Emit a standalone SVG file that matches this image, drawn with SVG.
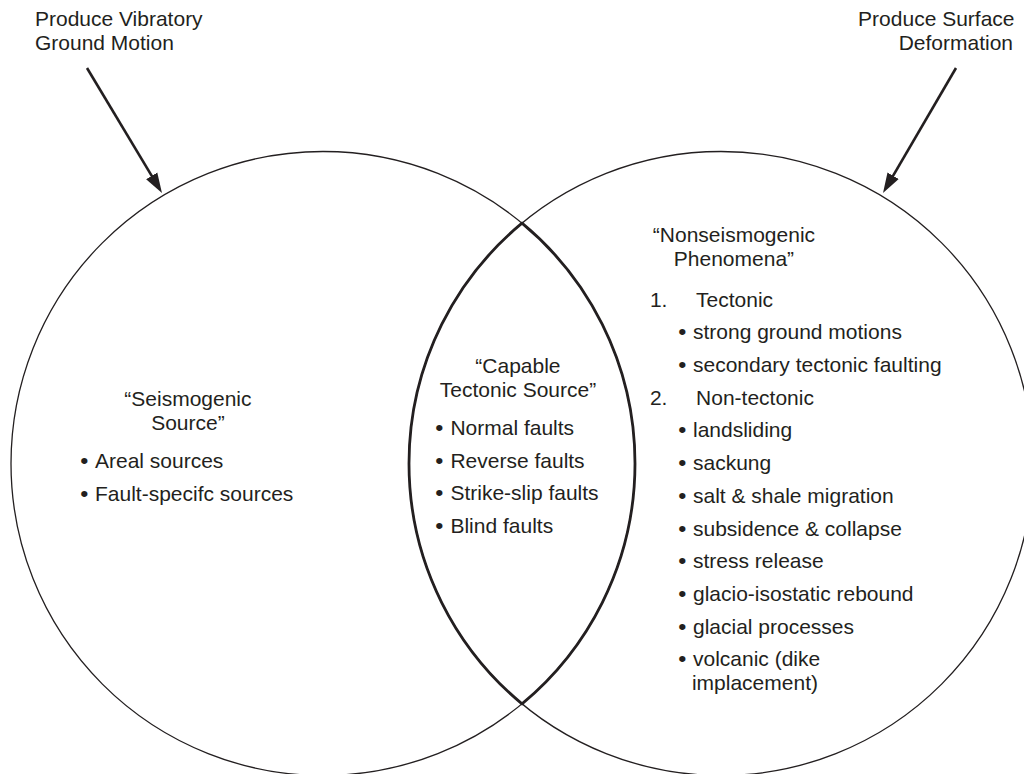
<svg xmlns="http://www.w3.org/2000/svg" width="1024" height="774" viewBox="0 0 1024 774">
  <style>
    .ring { fill: none; stroke: #231f20; stroke-width: 1.3; }
    .lens { fill: none; stroke: #231f20; stroke-width: 2.8; }
    .arrow { fill: none; stroke: #231f20; stroke-width: 2.6; }
    text { font-family: "Liberation Sans", Arial, Helvetica, sans-serif; font-size: 20px; fill: #231f20; }
    .mid { text-anchor: middle; }
    .end { text-anchor: end; }
    .dot { font-size: 22px; }
  </style>
  <defs>
    <marker id="head" viewBox="-1 -7 21 14" markerWidth="21" markerHeight="14" refX="0" refY="0" markerUnits="userSpaceOnUse" orient="auto">
      <path d="M-1,-6.5 L19,0 L-1,6.5 Z" fill="#231f20"/>
    </marker>
  </defs>

  <rect width="1024" height="774" fill="#ffffff"/>

  <!-- two overlapping sets -->
  <g id="seismogenic-set">
    <circle class="ring" cx="323" cy="463.5" r="312"/>
  </g>
  <g id="deformation-set">
    <circle class="ring" cx="721" cy="463.5" r="312"/>
  </g>
  <!-- overlap region outlined heavier -->
  <g id="capable-set">
    <path class="lens" d="M522,223.2 A312,312 0 0 1 522,703.8 A312,312 0 0 1 522,223.2 Z"/>
  </g>

  <!-- incoming arrows -->
  <g id="connectors">
    <line class="arrow" x1="87" y1="68" x2="152.2" y2="176.7" marker-end="url(#head)"/>
    <line class="arrow" x1="956" y1="68" x2="892.6" y2="176.6" marker-end="url(#head)"/>
  </g>

  <!-- labels (glyphs widened slightly) -->
  <g transform="scale(1.05 1)">
    <g id="label-vibratory">
      <text x="33.3" y="26">Produce Vibratory</text>
      <text x="33.3" y="50.5">Ground Motion</text>
    </g>
    <g id="label-surface">
      <text class="end" x="966.2" y="26">Produce Surface</text>
      <text class="end" x="964.8" y="50.5">Deformation</text>
    </g>

    <g id="label-seismogenic">
      <text class="mid" x="179" y="406">“Seismogenic</text>
      <text class="mid" x="179" y="430">Source”</text>
      <text y="468.5"><tspan class="dot" x="76.4">•</tspan><tspan x="90.5">Areal sources</tspan></text>
      <text y="501.5"><tspan class="dot" x="76.4">•</tspan><tspan x="90.5">Fault-specifc sources</tspan></text>
    </g>

    <g id="label-capable">
      <text class="mid" x="493.3" y="372.7">“Capable</text>
      <text class="mid" x="493.3" y="396.7">Tectonic Source”</text>
      <text y="435"><tspan class="dot" x="414.5">•</tspan><tspan x="429">Normal faults</tspan></text>
      <text y="467.7"><tspan class="dot" x="414.5">•</tspan><tspan x="429">Reverse faults</tspan></text>
      <text y="500.4"><tspan class="dot" x="414.5">•</tspan><tspan x="429">Strike-slip faults</tspan></text>
      <text y="533.1"><tspan class="dot" x="414.5">•</tspan><tspan x="429">Blind faults</tspan></text>
    </g>

    <g id="label-nonseismogenic">
      <text class="mid" x="699" y="242">“Nonseismogenic</text>
      <text class="mid" x="699" y="266">Phenomena”</text>
      <text y="306.7"><tspan x="619">1.</tspan><tspan x="662.9">Tectonic</tspan></text>
      <text y="339.4"><tspan class="dot" x="645.9">•</tspan><tspan x="660">strong ground motions</tspan></text>
      <text y="372.1"><tspan class="dot" x="645.9">•</tspan><tspan x="660">secondary tectonic faulting</tspan></text>
      <text y="404.8"><tspan x="619">2.</tspan><tspan x="662.9">Non-tectonic</tspan></text>
      <text y="437.5"><tspan class="dot" x="645.9">•</tspan><tspan x="660">landsliding</tspan></text>
      <text y="470.2"><tspan class="dot" x="645.9">•</tspan><tspan x="660">sackung</tspan></text>
      <text y="502.9"><tspan class="dot" x="645.9">•</tspan><tspan x="660">salt &amp; shale migration</tspan></text>
      <text y="535.6"><tspan class="dot" x="645.9">•</tspan><tspan x="660">subsidence &amp; collapse</tspan></text>
      <text y="568.3"><tspan class="dot" x="645.9">•</tspan><tspan x="660">stress release</tspan></text>
      <text y="601"><tspan class="dot" x="645.9">•</tspan><tspan x="660">glacio-isostatic rebound</tspan></text>
      <text y="633.7"><tspan class="dot" x="645.9">•</tspan><tspan x="660">glacial processes</tspan></text>
      <text y="666.4"><tspan class="dot" x="645.9">•</tspan><tspan x="660">volcanic (dike</tspan></text>
      <text x="659" y="690.4">implacement)</text>
    </g>
  </g>
</svg>
